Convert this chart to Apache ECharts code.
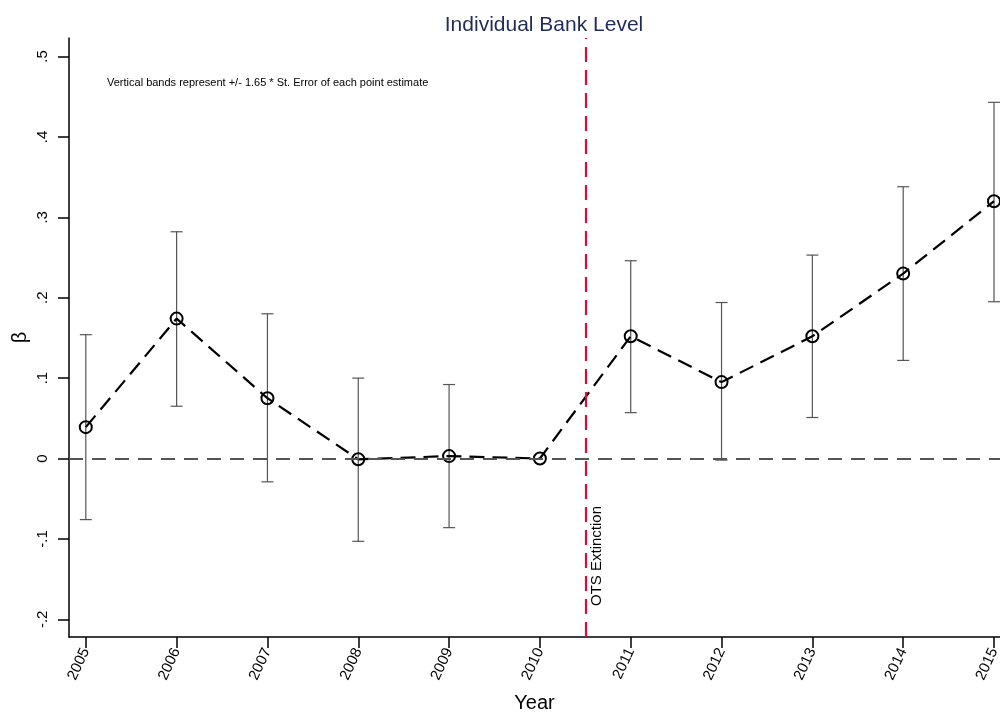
<!DOCTYPE html>
<html><head><meta charset="utf-8">
<script src="https://cdn.jsdelivr.net/npm/echarts@6/dist/echarts.min.js"></script>
<style>html,body{margin:0;padding:0;background:#fff}#c{width:1000px;height:715px}</style>
</head><body><div id="c"></div>
<script>
const years = [2005, 2006, 2007, 2008, 2009, 2010, 2011, 2012, 2013, 2014, 2015];
const beta  = [0.039, 0.174, 0.075, -0.001, 0.003, 0.000, 0.152, 0.095, 0.152, 0.230, 0.320];
const lower = [-0.076, 0.065, -0.029, -0.103, -0.086, null, 0.057, -0.002, 0.051, 0.122, 0.195];
const upper = [0.154, 0.282, 0.180, 0.100, 0.092, null, 0.246, 0.194, 0.253, 0.338, 0.443];
const yTicks = [-0.2, -0.1, 0, 0.1, 0.2, 0.3, 0.4, 0.5];
const eventYear = 2010.5;
const eventLabel = 'OTS Extinction';
const titleText = 'Individual Bank Level';
const noteText = 'Vertical bands represent +/- 1.65 * St. Error of each point estimate';

const FONT = '"Liberation Sans", Arial, sans-serif';
const chart = echarts.init(document.getElementById('c'), null, {renderer: 'canvas'});

const lineData = years.map((y, i) => [y, beta[i]]);
const barData = years.map((y, i) => lower[i] == null ? null : [y, lower[i], upper[i]]).filter(Boolean);

const fmtY = v => {
  if (Math.abs(v) < 1e-9) return '0';
  return v.toFixed(1).replace('0.', '.');
};

chart.setOption({
  animation: false,
  backgroundColor: '#fff',
  title: [
    {text: titleText, left: 539, top: 10, textAlign: 'center',
     textStyle: {fontFamily: FONT, fontSize: 21, fontWeight: 'normal', color: '#1f2c58'}},
    {text: noteText, left: 102, top: 72,
     textStyle: {fontFamily: FONT, fontSize: 11, fontWeight: 'normal', color: '#000'}}
  ],
  grid: {left: 69, right: 0, top: 38, bottom: 78, containLabel: false, outerBoundsMode: 'none'},
  xAxis: {
    type: 'value', min: 2004.815, max: 2015.066,
    name: 'Year', nameLocation: 'middle', nameGap: 56, nameMoveOverlap: false,
    nameTextStyle: {fontFamily: FONT, fontSize: 20, color: '#000'},
    axisLine: {show: true, onZero: false, lineStyle: {color: '#000', width: 1.5}},
    axisTick: {show: true, length: 11, customValues: years, lineStyle: {color: '#000', width: 1.5}},
    axisLabel: {customValues: years, rotate: 65, fontFamily: FONT, fontSize: 15, color: '#000', margin: 12,
                formatter: v => String(Math.round(v))},
    splitLine: {show: false}
  },
  yAxis: {
    type: 'value', min: -0.222, max: 0.523,
    name: 'β', nameLocation: 'middle', nameGap: 39, nameRotate: 90, nameMoveOverlap: false,
    nameTextStyle: {fontFamily: FONT, fontSize: 20, color: '#000'},
    axisLine: {show: true, onZero: false, lineStyle: {color: '#000', width: 1.5}},
    axisTick: {show: true, length: 11, customValues: yTicks, lineStyle: {color: '#000', width: 1.5}},
    axisLabel: {customValues: yTicks, rotate: 90, fontFamily: FONT, fontSize: 15, color: '#000', margin: 19,
                formatter: fmtY},
    splitLine: {show: false}
  },
  series: [
    {
      type: 'custom',
      z: 2,
      data: barData,
      renderItem: function (params, api) {
        const x = api.value(0), lo = api.value(1), hi = api.value(2);
        const p1 = api.coord([x, lo]);
        const p2 = api.coord([x, hi]);
        const w = 6;
        const style = {stroke: '#555', lineWidth: 1.2};
        return {type: 'group', children: [
          {type: 'line', shape: {x1: p1[0], y1: p1[1], x2: p2[0], y2: p2[1]}, style: style},
          {type: 'line', shape: {x1: p1[0] - w, y1: p1[1], x2: p1[0] + w, y2: p1[1]}, style: style},
          {type: 'line', shape: {x1: p2[0] - w, y1: p2[1], x2: p2[0] + w, y2: p2[1]}, style: style}
        ]};
      }
    },
    {
      type: 'line',
      z: 3,
      data: lineData,
      symbol: 'circle',
      symbolSize: 12,
      itemStyle: {color: 'rgba(0,0,0,0)', borderColor: '#000', borderWidth: 2},
      lineStyle: {color: '#000', width: 2.2, type: [15, 8]},
      markLine: {
        silent: true,
        symbol: 'none',
        animation: false,
        data: [
          {yAxis: 0, lineStyle: {color: '#555', width: 2.2, type: [14, 9]}, label: {show: false}},
          {xAxis: eventYear, lineStyle: {color: '#d0103a', width: 2.2, type: [15, 8]},
           label: {show: true, formatter: eventLabel, position: 'insideStartBottom', distance: [31, 4],
                   fontFamily: FONT, fontSize: 15, color: '#000'}}
        ]
      }
    }
  ]
});
</script>
</body></html>
